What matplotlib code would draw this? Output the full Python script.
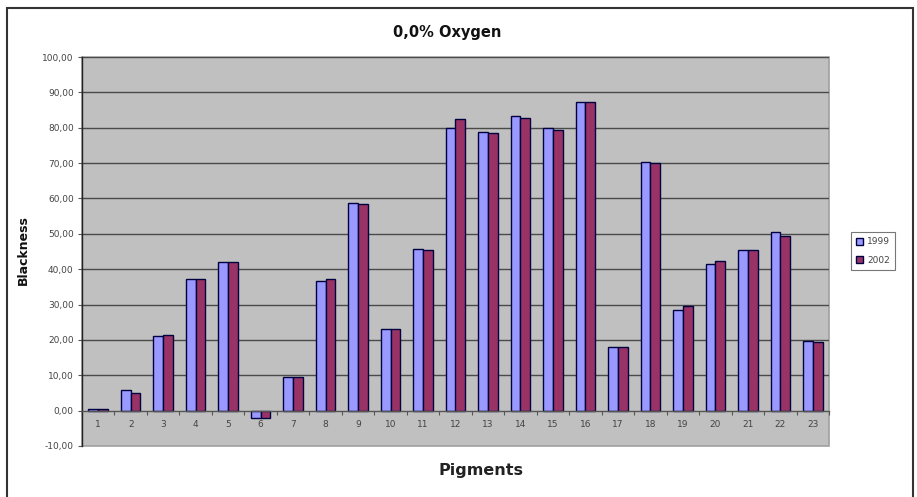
import matplotlib
matplotlib.use("Agg")
import matplotlib.pyplot as plt
from matplotlib.patches import Rectangle
from matplotlib.ticker import FixedLocator
import numpy as np

pigments = [str(i) for i in range(1, 24)]
values_1999 = [0.4, 5.9, 21.1, 37.1, 42.0, -2.2, 9.4, 36.7, 58.7, 23.1, 45.8, 79.8,
               78.9, 83.3, 79.8, 87.2, 17.9, 70.3, 28.4, 41.6, 45.3, 50.6, 19.6]
values_2002 = [0.4, 5.1, 21.5, 37.1, 42.0, -2.2, 9.4, 37.1, 58.3, 23.1, 45.3, 82.4,
               78.5, 82.8, 79.4, 87.2, 17.9, 69.9, 29.7, 42.3, 45.3, 49.4, 19.3]
series_names = ["1999", "2002"]
yticks = list(range(-10, 101, 10))

fig = plt.figure(figsize=(9.17, 4.97), dpi=100)
fig.patch.set_facecolor("white")

ax = fig.add_axes([82/917, 1-446/497, 747/917, (446-57)/497])
ax.set_facecolor("#C0C0C0")

x = np.arange(len(pigments))
w = 0.30
ax.bar(x - w/2, values_1999, w, color="#9999FF", edgecolor="#000040", linewidth=1.0,
       label=series_names[0], zorder=3)
ax.bar(x + w/2, values_2002, w, color="#993366", edgecolor="#000040", linewidth=1.0,
       label=series_names[1], zorder=3)

ax.set_xlim(-0.5, len(pigments) - 0.5)
ax.set_ylim(-10, 100)

for v in yticks[2:]:
    ax.axhline(v, color="#4a4a4a", linewidth=1.0, zorder=1)

ax.set_yticks(yticks)
ax.set_yticklabels([f"{v:.2f}".replace(".", ",") for v in yticks],
                   fontsize=6.5, color="#444444")
ax.tick_params(axis="y", direction="out", length=3, width=0.8, color="#555555", pad=3)

ax.spines["bottom"].set_position(("data", 0))
ax.spines["bottom"].set_color("#555555")
ax.spines["bottom"].set_linewidth(1.0)
ax.spines["bottom"].set_zorder(4)
ax.spines["top"].set_visible(False)
ax.spines["right"].set_visible(False)
ax.spines["left"].set_color("#222222")
ax.spines["left"].set_linewidth(1.0)

ax.set_xticks(x)
ax.set_xticklabels(pigments, fontsize=6.5, color="#444444")
ax.tick_params(axis="x", which="major", length=0, pad=7)
ax.xaxis.set_minor_locator(FixedLocator(np.arange(len(pigments) + 1) - 0.5))
ax.tick_params(axis="x", which="minor", direction="out", length=3, width=0.8, color="#555555")

# plot area border
ax.patch.set_edgecolor("#a0a0a0")
ax.patch.set_linewidth(1.2)

fig.text(447/917, 1-33/497, "0,0% Oxygen", ha="center", va="center",
         fontsize=10.5, fontweight="bold", color="#111111")
fig.text(23/917, 1-250/497, "Blackness", ha="center", va="center", rotation=90,
         fontsize=9, fontweight="bold", color="#111111")
fig.text(481/917, 1-470/497, "Pigments", ha="center", va="center",
         fontsize=11.5, fontweight="bold", color="#222222")

leg = fig.legend(loc="center", bbox_to_anchor=(873/917, 1-251/497), fontsize=6.5,
                 frameon=True, fancybox=False, edgecolor="#555555",
                 handlelength=0.8, handleheight=0.8, handletextpad=0.4,
                 labelspacing=1.0, borderpad=0.6)
leg.get_frame().set_linewidth(0.8)
for t in leg.get_texts():
    t.set_color("#444444")

fig.patches.append(Rectangle((7/917, -0.1), 906/917, 1.1 - 8/497, transform=fig.transFigure,
                             fill=False, edgecolor="#333333", linewidth=1.5))

fig.savefig("out.png", dpi=100)
